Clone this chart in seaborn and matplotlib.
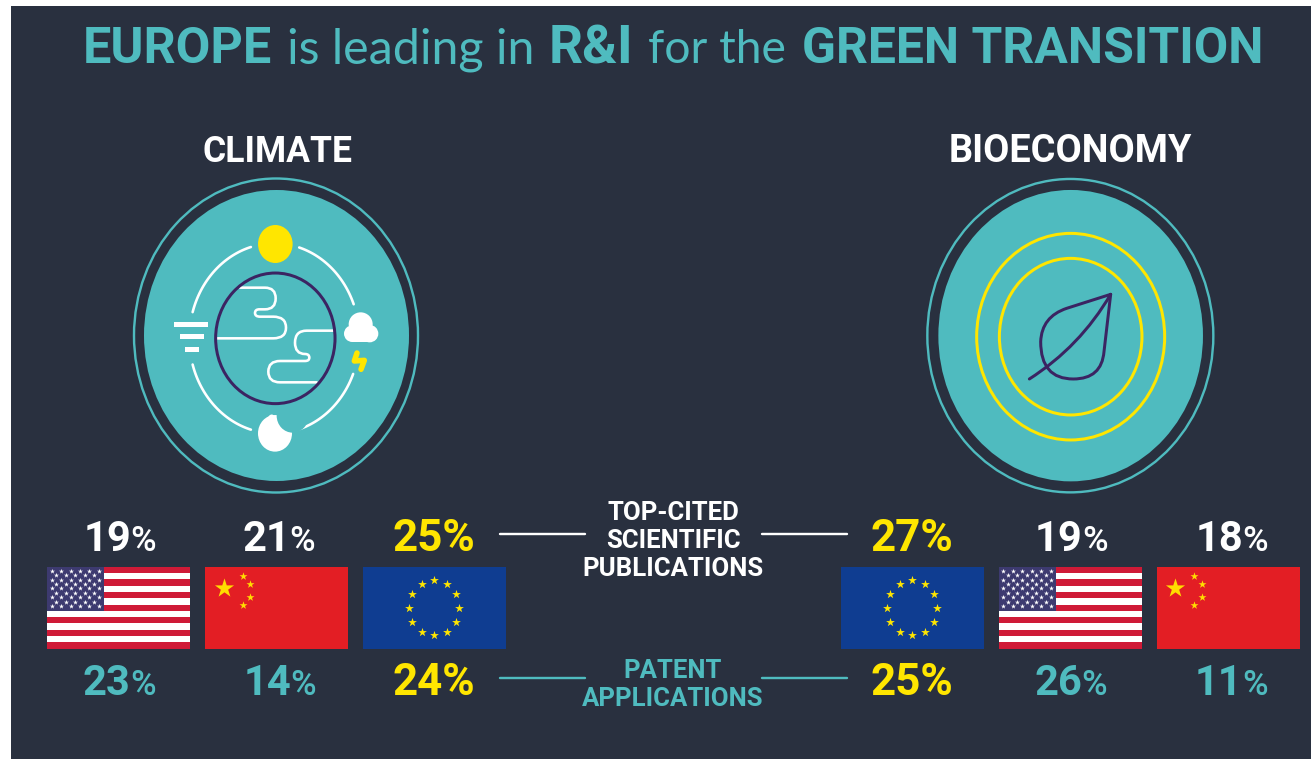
import numpy as np
import matplotlib
matplotlib.use("Agg")
import matplotlib.pyplot as plt
import seaborn as sns
from matplotlib.patches import Ellipse, Rectangle, PathPatch, Circle
from matplotlib.path import Path

# values
title_runs = ["EUROPE", "is leading in", "R&I", "for the", "GREEN TRANSITION"]
sections = ["CLIMATE", "BIOECONOMY"]
pub_label = ["TOP-CITED", "SCIENTIFIC", "PUBLICATIONS"]
pat_label = ["PATENT", "APPLICATIONS"]
climate_pub = {"US": 19, "CN": 21, "EU": 25}
climate_pat = {"US": 23, "CN": 14, "EU": 24}
bio_pub = {"EU": 27, "US": 19, "CN": 18}
bio_pat = {"EU": 25, "US": 26, "CN": 11}

BG = "#29303F"
TEAL = "#4FBBBF"
YELLOW = "#FFE600"
PURPLE = "#3B2462"

sns.set_theme(style="white")
plt.rcParams["font.family"] = ["Roboto", "DejaVu Sans"]

fig = plt.figure(figsize=(13.11, 7.59), dpi=100, facecolor="white")
ax = fig.add_axes([0, 0, 1, 1])
ax.set_xlim(0, 1311)
ax.set_ylim(759, 0)
ax.axis("off")
ax.add_patch(Rectangle((11, 6), 1300, 753, fc=BG, ec="none", zorder=0))

PX = 72 / 100  # line widths are thought of in pixels


def txt(x, y, s, size, color, weight="bold", ha="left", family=None):
    t = ax.text(x, y, s, fontsize=size, color=color, fontweight=weight, ha=ha, va="baseline", zorder=6)
    if family:
        t.set_family(family)
    return t


def fit(t, width):
    # scale the font so the run is as wide as in the reference
    w = t.get_window_extent(fig.canvas.get_renderer()).width
    t.set_fontsize(t.get_fontsize() * width / w)


# title
title_x = [83, 287, 549, 648, 802]
title_r = [272, 535, 634, 786, 1264]
title_w = ["bold", "normal", "bold", "normal", "bold"]
title_f = ["Roboto", "Lato", "Roboto", "Lato", "Roboto"]
for x, r, s, w, f in zip(title_x, title_r, title_runs, title_w, title_f):
    fit(txt(x, 63, s, 38, TEAL, w, family=f), r - x)

fit(txt(277, 162, sections[0], 28, "white", ha="center"), 150)
fit(txt(1070.5, 162, sections[1], 28, "white", ha="center"), 243)


def ring(cx, cy, rx, ry, fc="none", ec="none", lw=0, z=2):
    ax.add_patch(Ellipse((cx, cy), 2 * rx, 2 * ry, fc=fc, ec=ec, lw=lw * PX, zorder=z))


def curve(points, codes, color, lw):
    ax.add_patch(PathPatch(Path(points, codes), fc="none", ec=color, lw=lw * PX,
                           capstyle="round", joinstyle="round", zorder=4))


# climate badge, sketched in coordinates of a 3x crop starting at (130, 175)
def c1(x, y):
    return (130 + x / 3, 175 + y / 3)


ring(276, 335.5, 142, 157, ec=TEAL, lw=2.4)
ring(276.5, 335.5, 132.5, 145.5, fc=TEAL)

ox, oy = c1(433, 490)
for a0, a1 in [(106, 164), (21, 73), (196, 254), (285, 338)]:
    t = np.radians(np.linspace(a0, a1, 60))
    ax.plot(ox + 85 * np.cos(t), oy - 95 * np.sin(t), color="white", lw=2.6 * PX, solid_capstyle="round", zorder=3)

ring(*c1(436, 490), 59.7, 65.3, ec=PURPLE, lw=3, z=5)
ring(*c1(436, 207), 17.3, 19, fc=YELLOW, z=3)

M, L, Q = Path.MOVETO, Path.LINETO, Path.CURVE3
cloud_a = [(330, 338), (405, 338), (437, 338), (437, 370), (437, 403), (405, 403), (388, 403), (375, 403),
           (375, 414), (375, 425), (390, 425), (430, 425), (468, 425), (468, 458), (468, 490), (430, 490), (262, 490)]
codes_a = [M, L, Q, Q, Q, Q, L, Q, Q, Q, Q, L, Q, Q, Q, Q, L]
curve([c1(*p) for p in cloud_a], codes_a, "white", 2.6)
cloud_b = [(610, 467), (530, 467), (495, 467), (495, 503), (495, 537), (525, 537), (538, 537), (538, 548),
           (538, 558), (525, 558), (450, 558), (415, 558), (415, 590), (415, 622), (450, 622), (560, 622)]
codes_b = [M, L, Q, Q, Q, Q, Q, Q, Q, Q, L, Q, Q, Q, Q, L]
curve([c1(*p) for p in cloud_b], codes_b, "white", 2.6)

# wind bars
for x0, x1, y0, y1 in [(133, 235, 441, 456), (150, 222, 478, 492), (165, 207, 516, 532)]:
    px, py = c1(x0, y0)
    ax.add_patch(Rectangle((px, py), (x1 - x0) / 3, (y1 - y0) / 3, fc="white", ec="none", zorder=3))

# cloud
for x, y, r in [(692, 448, 36 / 3), (667, 476, 25 / 3), (719, 476, 26 / 3)]:
    ax.add_patch(Circle(c1(x, y), r, fc="white", ec="none", zorder=3))
px, py = c1(667, 465)
ax.add_patch(Rectangle((px, py), 52 / 3, 36 / 3, fc="white", ec="none", zorder=3))

# lightning
bolt = np.array([c1(*p) for p in [(681, 534), (673, 558), (703, 556), (693, 583)]])
ax.plot(bolt[:, 0], bolt[:, 1], color=YELLOW, lw=5.5 * PX, solid_capstyle="round", solid_joinstyle="round", zorder=3)

# moon
ring(*c1(435, 775), 17, 18.3, fc="white", z=3)
ring(*c1(488, 722), 16, 17, fc=TEAL, z=3)
ring(*c1(425, 735), 4, 5.5, fc="white", z=3)


# bioeconomy badge, crop starting at (920, 175)
def c2(x, y):
    return (920 + x / 3, 175 + y / 3)


ring(*c2(451, 482), 143, 156.7, ec=TEAL, lw=2.4)
ring(*c2(452, 482), 132.3, 145.7, fc=TEAL)
ring(*c2(452, 485), 94, 103.3, ec=YELLOW, lw=3, z=3)
ring(*c2(452, 485), 71.3, 78.3, ec=YELLOW, lw=3, z=3)

stem = [(328, 612), (480, 515), (572, 358)]
curve([c2(*p) for p in stem], [M, Q, Q], PURPLE, 3)
leaf = [(572, 358), (440, 400), (365, 425), (362, 500), (362, 612), (460, 612), (545, 612), (552, 530), (572, 358)]
curve([c2(*p) for p in leaf], [M, L, Q, Q, Q, Q, Q, Q, L], PURPLE, 3)

# flags
FLAG_W, FLAG_H, FLAG_Y = 143, 82, 566.7


def stars(xs, ys, size, color):
    sns.scatterplot(x=xs, y=ys, marker="*", s=size, color=color, linewidth=0, ax=ax, legend=False, zorder=7)


def flag_us(x0):
    ax.add_patch(Rectangle((x0, FLAG_Y), FLAG_W, FLAG_H, fc="white", ec="none", zorder=3))
    h = FLAG_H / 13
    for i in range(0, 13, 2):
        ax.add_patch(Rectangle((x0, FLAG_Y + i * h), FLAG_W, h, fc="#CF1A37", ec="none", zorder=4))
    ax.add_patch(Rectangle((x0, FLAG_Y), 56.5, 7 * h, fc="#3D3A70", ec="none", zorder=5))
    xs, ys = [], []
    for row in range(9):
        n = 6 if row % 2 == 0 else 5
        off = 0 if row % 2 == 0 else 4.7
        for col in range(n):
            xs.append(x0 + 4.3 + off + col * 9.45)
            ys.append(FLAG_Y + 4 + row * 4.42)
    stars(xs, ys, 14, "white")


def flag_cn(x0):
    ax.add_patch(Rectangle((x0, FLAG_Y), FLAG_W, FLAG_H, fc="#E31E24", ec="none", zorder=3))
    stars([x0 + 18.3], [FLAG_Y + 21], 210, "#FFDD00")
    stars([x0 + 37.3, x0 + 45, x0 + 45, x0 + 37.3], [FLAG_Y + 9.5, FLAG_Y + 17.7, FLAG_Y + 30, FLAG_Y + 38.3], 36, "#FFDD00")


def flag_eu(x0):
    ax.add_patch(Rectangle((x0, FLAG_Y), FLAG_W, FLAG_H, fc="#0F3D91", ec="none", zorder=3))
    t = np.radians(np.arange(0, 360, 30))
    stars(x0 + 71 + 25 * np.cos(t), FLAG_Y + 41 + 27.7 * np.sin(t), 44, YELLOW)


flag_us(47.3)
flag_cn(205.3)
flag_eu(363)
flag_eu(841)
flag_us(999)
flag_cn(1156.5)


# percentages: the number is heavy, the % sign of the other flags smaller
def pct(x_num, base, val, color):
    t = txt(x_num, base, f"{val}", 30, color)
    bb = t.get_window_extent(fig.canvas.get_renderer()).transformed(ax.transData.inverted())
    txt(bb.x1 - 1, base, "%", 25, color, "medium")


def pct_eu(x_num, base, val):
    fit(txt(x_num, base, f"{val}%", 30, YELLOW), 83)


BASE_TOP, BASE_BOT = 551, 695
pct(84, BASE_TOP, climate_pub["US"], "white")
pct(242, BASE_TOP, climate_pub["CN"], "white")
pct_eu(393, BASE_TOP, climate_pub["EU"])
pct(83, BASE_BOT, climate_pat["US"], TEAL)
pct(244, BASE_BOT, climate_pat["CN"], TEAL)
pct_eu(393, BASE_BOT, climate_pat["EU"])
pct_eu(871, BASE_TOP, bio_pub["EU"])
pct(1035, BASE_TOP, bio_pub["US"], "white")
pct(1196, BASE_TOP, bio_pub["CN"], "white")
pct_eu(871, BASE_BOT, bio_pat["EU"])
pct(1034, BASE_BOT, bio_pat["US"], TEAL)
pct(1195, BASE_BOT, bio_pat["CN"], TEAL)

# centre labels and connectors
for s, y in zip(pub_label, [520, 548, 576]):
    txt(673, y, s, 18.5, "white", ha="center")
for s, y in zip(pat_label, [678, 706]):
    txt(673, y, s, 18.5, TEAL, ha="center")

for x0, x1 in [(500, 585), (762, 847)]:
    sns.lineplot(x=[x0, x1], y=[534.3, 534.3], color="white", lw=2.4 * PX, ax=ax, legend=False)
    sns.lineplot(x=[x0, x1], y=[678.3, 678.3], color=TEAL, lw=2.4 * PX, ax=ax, legend=False)

ax.set_xlim(0, 1311)
ax.set_ylim(759, 0)
fig.savefig("out.png", dpi=100, facecolor="white")
